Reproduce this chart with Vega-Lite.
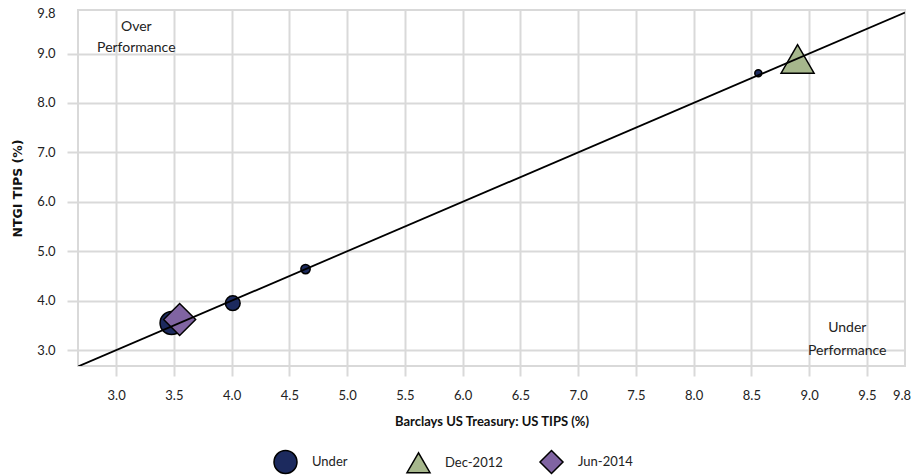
{
  "$schema": "https://vega.github.io/schema/vega-lite/v6.json",
  "autosize": "none",
  "width": 827,
  "height": 356,
  "padding": {"left": 78, "top": 10, "right": 11, "bottom": 109},
  "background": "white",
  "config": {
    "view": {"stroke": "#d9d9d9", "strokeWidth": 2},
    "font": "Lato"
  },
  "datasets": {
    "points": [
      {"bench": 3.48, "fund": 3.55, "series": "Under", "bubble": 23},
      {"bench": 4.01, "fund": 3.95, "series": "Under", "bubble": 14.7},
      {"bench": 4.64, "fund": 4.64, "series": "Under", "bubble": 9.3},
      {"bench": 8.56, "fund": 8.6, "series": "Under", "bubble": 7},
      {"bench": 8.9, "fund": 8.89, "series": "Dec-2012", "bubble": 33},
      {"bench": 3.55, "fund": 3.62, "series": "Jun-2014", "bubble": 32}
    ],
    "parity": [{"v": 2.67}, {"v": 9.83}],
    "notes": [
      {"bench": 3.175, "fund": 9.54, "text": "Over"},
      {"bench": 3.175, "fund": 9.11, "text": "Performance"},
      {"bench": 9.33, "fund": 3.45, "text": "Under"},
      {"bench": 9.33, "fund": 2.98, "text": "Performance"}
    ]
  },
  "layer": [
    {
      "data": {"name": "points"},
      "mark": {"type": "point", "filled": true, "stroke": "black", "strokeWidth": 1.5, "opacity": 1},
      "encoding": {
        "x": {
          "field": "bench", "type": "quantitative",
          "scale": {"domain": [2.67, 9.83], "nice": false, "zero": false},
          "axis": {
            "title": "Barclays US Treasury: US TIPS (%)",
            "values": [3, 3.5, 4, 4.5, 5, 5.5, 6, 6.5, 7, 7.5, 8, 8.5, 9, 9.5, 9.8],
            "format": ".1f",
            "domain": false,
            "grid": true,
            "gridColor": {"condition": {"test": "datum.value >= 9.8", "value": "transparent"}, "value": "#d9d9d9"},
            "gridWidth": 2,
            "tickColor": {"condition": {"test": "datum.value >= 9.8", "value": "transparent"}, "value": "#d9d9d9"},
            "tickWidth": 2,
            "tickSize": 10,
            "labelFont": "Lato",
            "labelFontSize": 13,
            "labelColor": "#222222",
            "labelPadding": 13,
            "labelFlush": false,
            "titleFont": "Lato",
            "titleFontSize": 13,
            "titleFontWeight": "bold",
            "titleColor": "#111111",
            "titlePadding": 13
          }
        },
        "y": {
          "field": "fund", "type": "quantitative",
          "scale": {"domain": [2.68, 9.88], "nice": false, "zero": false},
          "axis": {
            "title": "NTGI TIPS (%)",
            "values": [3, 4, 5, 6, 7, 8, 9, 9.8],
            "format": ".1f",
            "domain": false,
            "grid": true,
            "gridColor": {"condition": {"test": "datum.value >= 9.8", "value": "transparent"}, "value": "#d9d9d9"},
            "gridWidth": 2,
            "tickColor": {"condition": {"test": "datum.value >= 9.8", "value": "transparent"}, "value": "#d9d9d9"},
            "tickWidth": 2,
            "tickSize": 11,
            "labelFont": "Lato",
            "labelFontSize": 13,
            "labelColor": "#222222",
            "labelPadding": 12,
            "labelFlush": false,
            "titleFont": "DejaVu Sans",
            "titleFontSize": 12.5,
            "titleFontWeight": "bold",
            "titleColor": "#111111",
            "titlePadding": 12
          }
        },
        "shape": {
          "field": "series", "type": "nominal",
          "scale": {"domain": ["Under", "Dec-2012", "Jun-2014"], "range": ["circle", "triangle-up", "diamond"]},
          "legend": {
            "title": null,
            "orient": "none",
            "legendX": 195,
            "legendY": 439,
            "direction": "horizontal",
            "columns": 3,
            "gridAlign": "all",
            "columnPadding": 33,
            "padding": 0,
            "symbolSize": 530,
            "symbolStrokeColor": "black",
            "symbolStrokeWidth": 1.5,
            "symbolOpacity": 1,
            "labelFont": "Lato",
            "labelFontSize": 13,
            "labelColor": "#222222",
            "labelOffset": 14,
            "encode": {"symbols": {"update": {"stroke": {"value": "black"}, "strokeWidth": {"value": 1.5}}}}
          }
        },
        "color": {
          "field": "series", "type": "nominal",
          "scale": {"domain": ["Under", "Dec-2012", "Jun-2014"], "range": ["#1c2a5e", "#a6b78c", "#8064a2"]},
          "legend": {
            "title": null,
            "orient": "none",
            "legendX": 195,
            "legendY": 439,
            "direction": "horizontal",
            "columns": 3,
            "gridAlign": "all",
            "columnPadding": 33,
            "padding": 0,
            "symbolSize": 530,
            "symbolStrokeColor": "black",
            "symbolStrokeWidth": 1.5,
            "symbolOpacity": 1,
            "labelFont": "Lato",
            "labelFontSize": 13,
            "labelColor": "#222222",
            "labelOffset": 14,
            "encode": {"symbols": {"update": {"stroke": {"value": "black"}, "strokeWidth": {"value": 1.5}}}}
          }
        },
        "size": {
          "field": "bubble", "type": "quantitative",
          "scale": {"type": "pow", "exponent": 2, "domain": [0, 33], "range": [0, 1089], "zero": true},
          "legend": null
        }
      }
    },
    {
      "data": {"name": "parity"},
      "mark": {"type": "line", "color": "black", "strokeWidth": 1.8, "clip": true},
      "encoding": {
        "x": {"field": "v", "type": "quantitative"},
        "y": {"field": "v", "type": "quantitative"}
      }
    },
    {
      "data": {"name": "notes"},
      "mark": {"type": "text", "font": "Lato", "fontSize": 14, "color": "#222222", "align": "center", "baseline": "middle"},
      "encoding": {
        "x": {"field": "bench", "type": "quantitative"},
        "y": {"field": "fund", "type": "quantitative"},
        "text": {"field": "text"}
      }
    }
  ]
}
